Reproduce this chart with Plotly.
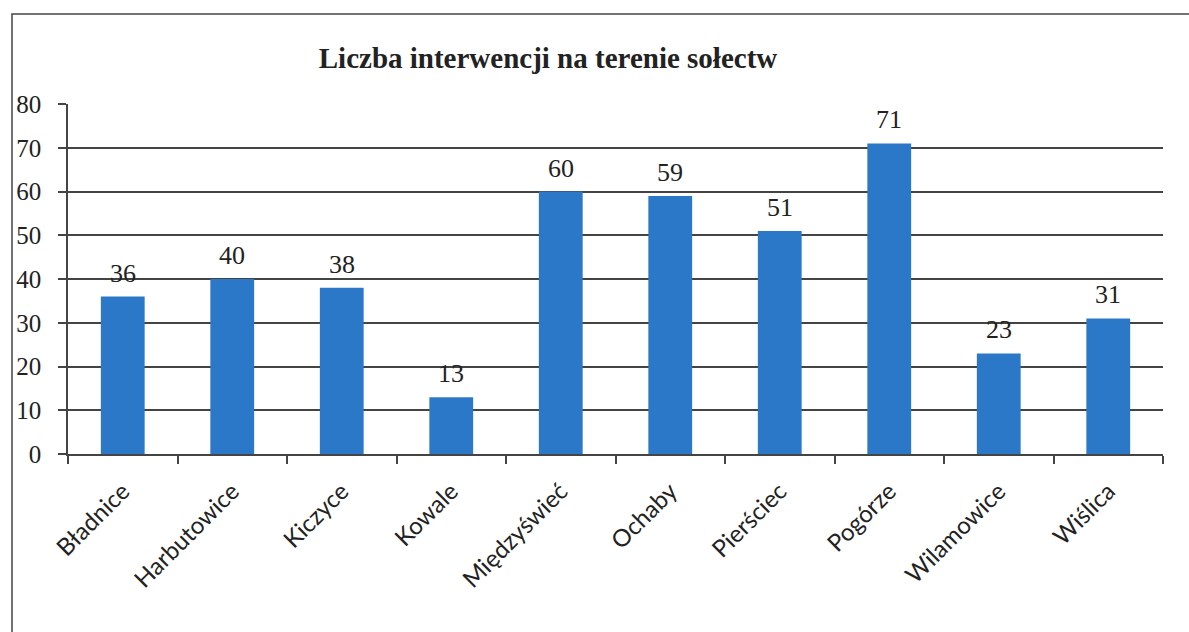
import plotly.graph_objects as go

categories = ["Bładnice", "Harbutowice", "Kiczyce", "Kowale", "Międzyświeć",
              "Ochaby", "Pierściec", "Pogórze", "Wilamowice", "Wiślica"]
values = [36, 40, 38, 13, 60, 59, 51, 71, 23, 31]
y_ticks = [0, 10, 20, 30, 40, 50, 60, 70, 80]
title_text = "Liczba interwencji na terenie sołectw"

W, H = 1189, 632
L, R, T, B = 68, 26, 104, 178
pw, ph = W - L - R, H - T - B

def px_x(p):
    return (p - L) / pw

def px_y(p):
    return (H - B - p) / ph

fig = go.Figure(go.Bar(
    x=categories, y=values,
    marker=dict(color="#2C78C8", line=dict(width=0)),
    width=0.4, hoverinfo="x+y",
))

for c, v in zip(categories, values):
    fig.add_annotation(x=c, y=v, text=str(v), showarrow=False,
                       yanchor="bottom", yshift=7,
                       font=dict(family="Liberation Serif", size=26, color="#222"))

fig.update_layout(
    width=W, height=H,
    margin=dict(l=L, r=R, t=T, b=B, autoexpand=False),
    paper_bgcolor="white", plot_bgcolor="white",
    showlegend=False,
    title=dict(text="<b>" + title_text + "</b>",
               font=dict(family="Liberation Serif", size=29, color="#222"),
               x=px_x(548), xref="paper", xanchor="center",
               y=1 - 58 / H, yref="container", yanchor="middle"),
    xaxis=dict(
        type="category", showgrid=False,
        showline=True, linecolor="#444", linewidth=1.5,
        ticks="outside", ticklen=8, tickcolor="#444", tickwidth=1.5,
        tickson="boundaries", tickangle=-45,
        tickfont=dict(family="Lato", size=24, color="#222"),
        ticklabelstandoff=12,
    ),
    yaxis=dict(
        range=[0, 80], tickvals=y_ticks,
        showgrid=True, gridcolor="#444", gridwidth=1.5,
        showline=True, linecolor="#444", linewidth=1.5,
        ticks="outside", ticklen=8, tickcolor="#444", tickwidth=1.5,
        tickfont=dict(family="Liberation Serif", size=25, color="#222"),
        ticklabelstandoff=12, zeroline=False,
    ),
    shapes=[dict(type="rect", xref="paper", yref="paper",
                 x0=px_x(12), x1=px_x(1200), y0=px_y(660), y1=px_y(14),
                 line=dict(color="#444", width=1.5), fillcolor="rgba(0,0,0,0)",
                 layer="below")],
)

fig.write_html("out.html", config={"displayModeBar": False},
               post_script="document.body.style.margin='0';document.body.style.overflow='hidden';")
